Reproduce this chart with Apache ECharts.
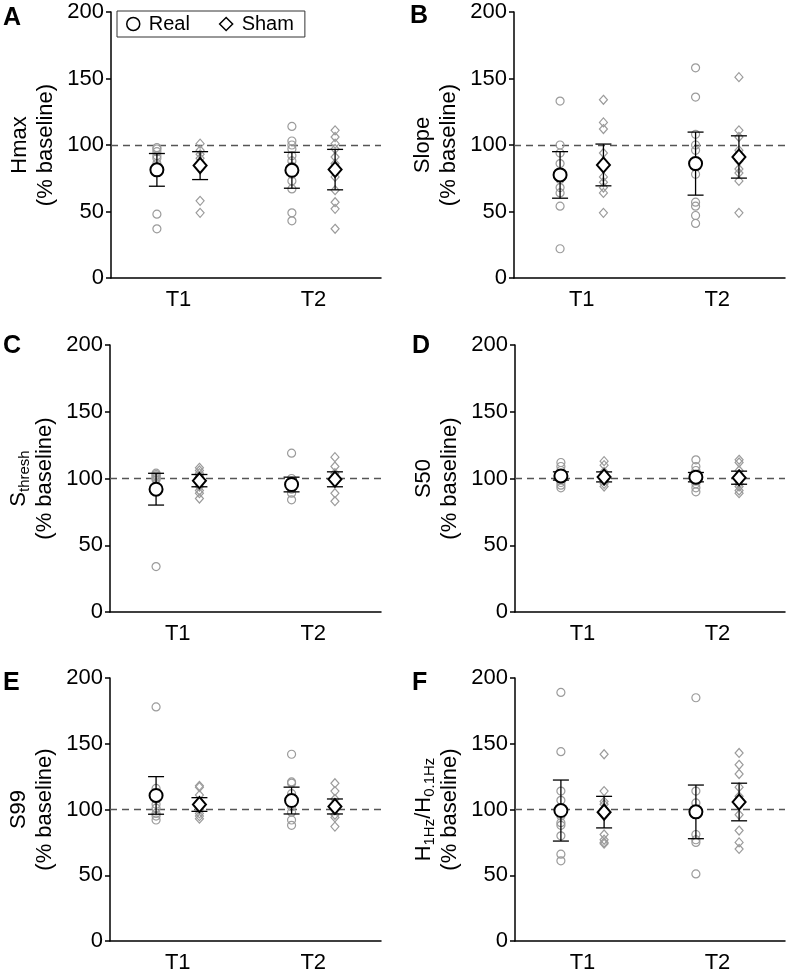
<!DOCTYPE html>
<html>
<head>
<meta charset="utf-8">
<script src="https://cdn.jsdelivr.net/npm/echarts@6/dist/echarts.min.js"></script>
<style>
html,body{margin:0;padding:0;background:#fff;}
#chart{width:789px;height:974px;}
</style>
</head>
<body>
<div id="chart"></div>
<script>
// ---------- DATA ----------
const categories = ['T1', 'T2'];
const yTicks = [0, 50, 100, 150, 200];
const groups = ['Real', 'Sham'];

// Panel A: Hmax  (individual values per category: [T1, T2])
const hmaxReal = [[98, 97, 95, 92, 90, 86, 48, 37], [114, 103, 100, 97, 92, 88, 84, 78, 73, 67, 49, 43]];
const hmaxSham = [[101, 96, 93, 90, 87, 58, 49], [111, 106, 101, 97, 91, 86, 76, 66, 57, 52, 37]];
const hmaxRealMean = [81.3, 81];
const hmaxRealSem = [12.3, 13.5];
const hmaxShamMean = [84.5, 81.5];
const hmaxShamSem = [10.5, 15.2];

// Panel B: Slope
const slopeReal = [[133, 100, 94, 86, 80, 74, 68, 64, 54, 22], [158, 136, 108, 100, 96, 78, 57, 54, 47, 41]];
const slopeSham = [[134, 117, 112, 94, 84, 76, 72, 68, 64, 49], [151, 111, 106, 96, 88, 82, 79, 73, 49]];
const slopeRealMean = [77.5, 86];
const slopeRealSem = [17.5, 23.7];
const slopeShamMean = [85, 91];
const slopeShamSem = [15.7, 15.9];

// Panel C: S_thresh
const sthreshReal = [[104, 103, 102, 101, 100, 99, 34], [119, 100, 98, 95, 92, 89, 84]];
const sthreshSham = [[108, 106, 104, 102, 100, 98, 94, 91, 89, 85], [116, 109, 104, 101, 98, 89, 83]];
const sthreshRealMean = [92, 95.5];
const sthreshRealSem = [11.9, 5.5];
const sthreshShamMean = [98.4, 99.4];
const sthreshShamSem = [4.6, 5.6];

// Panel D: S50
const s50Real = [[112, 109, 106, 103, 101, 99, 97, 95, 93], [114, 109, 106, 103, 100, 98, 96, 93, 90]];
const s50Sham = [[113, 110, 105, 102, 100, 98, 96, 94], [114, 112, 106, 102, 99, 96, 94, 91, 89]];
const s50RealMean = [101.9, 101];
const s50RealSem = [3.1, 3.5];
const s50ShamMean = [101.2, 100.6];
const s50ShamSem = [3.75, 4.9];

// Panel E: S99
const s99Real = [[178, 116, 108, 104, 101, 97, 95, 92], [142, 121, 120, 112, 106, 102, 98, 92, 88]];
const s99Sham = [[118, 117, 111, 106, 103, 100, 97, 95, 93], [120, 114, 108, 104, 100, 96, 94, 87]];
const s99RealMean = [110.7, 106.8];
const s99RealSem = [14.3, 10.2];
const s99ShamMean = [103.8, 102.3];
const s99ShamSem = [5.2, 5.7];

// Panel F: H1Hz/H0.1Hz
const hRatioReal = [[189, 144, 114, 107, 100, 95, 90, 88, 80, 66, 61], [185, 114, 105, 99, 81, 77, 75, 51]];
const hRatioSham = [[142, 114, 106, 104, 100, 96, 81, 77, 75, 74], [143, 134, 127, 117, 110, 104, 96, 84, 75, 70]];
const hRatioRealMean = [99.2, 98.2];
const hRatioRealSem = [23.2, 20.4];
const hRatioShamMean = [98, 105.7];
const hRatioShamSem = [12, 14.3];

const panelLabels = ['A', 'B', 'C', 'D', 'E', 'F'];
const yNames = [
  'Hmax\n(% baseline)',
  'Slope\n(% baseline)',
  'S{s|thresh}\n(% baseline)',
  'S50\n(% baseline)',
  'S99\n(% baseline)',
  'H{s|1Hz}/H{s|0.1Hz}\n(% baseline)'
];

// ---------- BUILD ----------
const panels = [
  {real: hmaxReal, sham: hmaxSham, rm: hmaxRealMean, rs: hmaxRealSem, sm: hmaxShamMean, ss: hmaxShamSem},
  {real: slopeReal, sham: slopeSham, rm: slopeRealMean, rs: slopeRealSem, sm: slopeShamMean, ss: slopeShamSem},
  {real: sthreshReal, sham: sthreshSham, rm: sthreshRealMean, rs: sthreshRealSem, sm: sthreshShamMean, ss: sthreshShamSem},
  {real: s50Real, sham: s50Sham, rm: s50RealMean, rs: s50RealSem, sm: s50ShamMean, ss: s50ShamSem},
  {real: s99Real, sham: s99Sham, rm: s99RealMean, rs: s99RealSem, sm: s99ShamMean, ss: s99ShamSem},
  {real: hRatioReal, sham: hRatioSham, rm: hRatioRealMean, rs: hRatioRealSem, sm: hRatioShamMean, ss: hRatioShamSem}
];

const FONT = '"Liberation Sans", Arial, sans-serif';
const gridPos = [
  {left: 111, top: 12, width: 270, height: 266},
  {left: 514, top: 12, width: 271, height: 266},
  {left: 110, top: 345, width: 271, height: 267},
  {left: 515, top: 345, width: 270, height: 267},
  {left: 110, top: 678, width: 271, height: 267},
  {left: 515, top: 678, width: 270, height: 267}
];
const labelPos = [[3, 6], [410, 4], [3, 334], [412, 334], [3, 671], [412, 671]];
const OFF = 0.16; // group offset within a category (fraction of category width)

const grids = [], xAxes = [], yAxes = [], series = [], graphics = [];

function errorBarItem(params, api) {
  const x = api.value(0), m = api.value(1), s = api.value(2);
  const t = api.coord([x, m + s]);
  const b = api.coord([x, m - s]);
  const hw = 8;
  const st = {stroke: '#000', lineWidth: 1.3};
  return {type: 'group', children: [
    {type: 'line', shape: {x1: t[0], y1: t[1], x2: b[0], y2: b[1]}, style: st},
    {type: 'line', shape: {x1: t[0] - hw, y1: t[1], x2: t[0] + hw, y2: t[1]}, style: st},
    {type: 'line', shape: {x1: b[0] - hw, y1: b[1], x2: b[0] + hw, y2: b[1]}, style: st}
  ]};
}

panels.forEach((p, i) => {
  grids.push(Object.assign({containLabel: false}, gridPos[i]));
  xAxes.push({
    gridIndex: i, type: 'value', min: 0, max: categories.length, interval: 0.5,
    axisLine: {show: true, onZero: false, lineStyle: {color: '#000', width: 1.5}},
    axisTick: {show: false}, splitLine: {show: false},
    axisLabel: {
      fontSize: 22, color: '#000', fontFamily: FONT, margin: 11,
      formatter: v => (Math.abs(v % 1 - 0.5) < 1e-6 ? categories[Math.floor(v)] : '')
    }
  });
  yAxes.push({
    gridIndex: i, type: 'value', min: yTicks[0], max: yTicks[yTicks.length - 1], interval: yTicks[1] - yTicks[0],
    axisLine: {show: true, lineStyle: {color: '#000', width: 1.5}},
    axisTick: {show: true, inside: false, length: 5, lineStyle: {color: '#000', width: 1.5}},
    splitLine: {show: false},
    axisLabel: {fontSize: 22, color: '#000', fontFamily: FONT, margin: 7},
    name: yNames[i], nameLocation: 'middle', nameGap: 52,
    nameTextStyle: {
      fontSize: 22, color: '#000', fontFamily: FONT, lineHeight: 26, align: 'center',
      rich: {s: {fontSize: 15, color: '#000', fontFamily: FONT, lineHeight: 15, verticalAlign: 'bottom'}}
    }
  });

  const realPts = [], shamPts = [], bars = [], realMean = [], shamMean = [];
  categories.forEach((c, ci) => {
    const xr = ci + 0.5 - OFF, xs = ci + 0.5 + OFF;
    p.real[ci].forEach(v => realPts.push([xr, v]));
    p.sham[ci].forEach(v => shamPts.push([xs, v]));
    bars.push([xr, p.rm[ci], p.rs[ci]]);
    bars.push([xs, p.sm[ci], p.ss[ci]]);
    realMean.push([xr, p.rm[ci]]);
    shamMean.push([xs, p.sm[ci]]);
  });

  series.push({
    type: 'scatter', name: 'Real points', xAxisIndex: i, yAxisIndex: i, z: 2,
    symbol: 'circle', symbolSize: 8, data: realPts, silent: true,
    itemStyle: {color: 'rgba(0,0,0,0)', borderColor: '#9b9b9b', borderWidth: 1.2, opacity: 1},
    markLine: {
      silent: true, symbol: 'none', label: {show: false}, z: 1,
      lineStyle: {color: '#555', type: [7, 5], width: 1.3},
      data: [{yAxis: 100}]
    }
  });
  series.push({
    type: 'scatter', name: 'Sham points', xAxisIndex: i, yAxisIndex: i, z: 2,
    symbol: 'diamond', symbolSize: [8, 9], data: shamPts, silent: true,
    itemStyle: {color: 'rgba(0,0,0,0)', borderColor: '#9b9b9b', borderWidth: 1.2, opacity: 1}
  });
  series.push({
    type: 'custom', name: 'SEM', xAxisIndex: i, yAxisIndex: i, z: 3,
    renderItem: errorBarItem, data: bars, encode: {x: 0, y: 1}, silent: true
  });
  series.push({
    type: 'scatter', name: 'Real', xAxisIndex: i, yAxisIndex: i, z: 4,
    symbol: 'circle', symbolSize: 13, data: realMean, silent: true,
    itemStyle: {color: '#fff', borderColor: '#000', borderWidth: 2, opacity: 1}
  });
  series.push({
    type: 'scatter', name: 'Sham', xAxisIndex: i, yAxisIndex: i, z: 4,
    symbol: 'diamond', symbolSize: [13, 15], data: shamMean, silent: true,
    itemStyle: {color: '#fff', borderColor: '#000', borderWidth: 2, opacity: 1}
  });

  graphics.push({
    type: 'text', x: labelPos[i][0], y: labelPos[i][1],
    style: {text: panelLabels[i], fontSize: 25, fontWeight: 'bold', fontFamily: FONT, fill: '#000'}
  });
});

const chart = echarts.init(document.getElementById('chart'), null, {renderer: 'canvas'});
chart.setOption({
  animation: false,
  backgroundColor: '#fff',
  grid: grids,
  xAxis: xAxes,
  yAxis: yAxes,
  series: series,
  graphic: graphics,
  legend: {
    left: 117, top: 11, orient: 'horizontal',
    padding: [2, 11, 2, 9], itemGap: 29, itemWidth: 13, itemHeight: 13,
    borderColor: '#333', borderWidth: 1, selectedMode: false,
    textStyle: {fontSize: 20, color: '#000', fontFamily: FONT, lineHeight: 22, padding: [0, 0, 0, 4]},
    data: [
      {name: groups[0], icon: 'circle', itemStyle: {color: '#fff', borderColor: '#000', borderWidth: 1.5, opacity: 1}},
      {name: groups[1], icon: 'diamond', itemStyle: {color: '#fff', borderColor: '#000', borderWidth: 1.5, opacity: 1}}
    ]
  }
});
</script>
</body>
</html>
